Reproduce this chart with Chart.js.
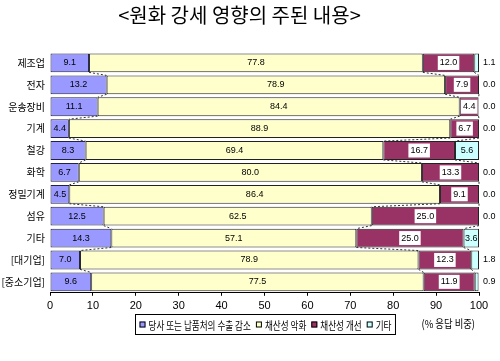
<!DOCTYPE html>
<html>
<head>
<meta charset="utf-8">
<script src="https://cdn.jsdelivr.net/npm/chart.js@4/dist/chart.umd.min.js"></script>
<style>
  html, body { margin: 0; padding: 0; background: #fff; }
  #wrap { width: 500px; height: 361px; }
</style>
</head>
<body>
<div id="wrap"><canvas id="c" width="500" height="361"></canvas></div>
<script>
const titleText = '<원화 강세 영향의 주된 내용>';
const categories = ['제조업', '전자', '운송장비', '기계', '철강', '화학', '정밀기계', '섬유', '기타', '[대기업]', '[중소기업]'];
const seriesNames = ['당사 또는 납품처의 수출 감소', '채산성 악화', '채산성 개선', '기타'];
const exportDecline = [9.1, 13.2, 11.1, 4.4, 8.3, 6.7, 4.5, 12.5, 14.3, 7.0, 9.6];
const profitWorse   = [77.8, 78.9, 84.4, 88.9, 69.4, 80.0, 86.4, 62.5, 57.1, 78.9, 77.5];
const profitBetter  = [12.0, 7.9, 4.4, 6.7, 16.7, 13.3, 9.1, 25.0, 25.0, 12.3, 11.9];
const others        = [1.1, 0.0, 0.0, 0.0, 5.6, 0.0, 0.0, 0.0, 3.6, 1.8, 0.9];
const xTicks = [0, 10, 20, 30, 40, 50, 60, 70, 80, 90, 100];
const unitLabel = '(% 응답 비중)';

const colors = ['#9999FF', '#FFFFCC', '#993366', '#CCFFFF'];
const borders = ['#222244', '#222222', '#222222', '#222222'];
const KR = '"Noto Sans CJK KR", "Noto Sans", sans-serif';

const seriesData = [exportDecline, profitWorse, profitBetter, others];

const overlay = {
  id: 'overlay',
  afterDatasetsDraw(chart) {
    const ctx = chart.ctx;
    const metas = seriesData.map((_, i) => chart.getDatasetMeta(i));
    const n = categories.length;
    // series lines
    ctx.save();
    ctx.setLineDash([2, 2]);
    ctx.strokeStyle = '#333';
    ctx.lineWidth = 1;
    for (let s = 0; s < 3; s++) {
      for (let i = 0; i < n - 1; i++) {
        const a = metas[s].data[i], b = metas[s].data[i + 1];
        ctx.beginPath();
        ctx.moveTo(a.x, a.y + a.height / 2);
        ctx.lineTo(b.x, b.y - b.height / 2);
        ctx.stroke();
      }
    }
    ctx.restore();
    // value labels
    ctx.save();
    ctx.font = '9px "Liberation Sans", Arial, sans-serif';
    ctx.textBaseline = 'middle';
    const area = chart.chartArea;
    seriesData.forEach((vals, s) => {
      metas[s].data.forEach((el, i) => {
        const v = vals[i];
        const txt = v.toFixed(1);
        const cx = (el.base + el.x) / 2;
        const cy = el.y;
        if (s === 3 && v < 3) {
          ctx.textAlign = 'left';
          ctx.fillStyle = '#000';
          ctx.fillText(txt, area.right + 4, cy);
          return;
        }
        ctx.textAlign = 'center';
        if (s === 2) {
          const w = ctx.measureText(txt).width + 4;
          ctx.fillStyle = '#fff';
          ctx.fillRect(cx - w / 2, cy - 7, w, 14);
        }
        ctx.fillStyle = '#000';
        ctx.fillText(txt, cx, cy);
      });
    });
    ctx.restore();
  },
  afterDraw(chart) {
    const ctx = chart.ctx;
    const area = chart.chartArea;
    ctx.save();
    const squeeze = 0.78;
    ctx.font = '11px ' + KR;
    ctx.textBaseline = 'middle';
    const box = 6, gapBox = 3, gapItem = 5, pad = 4;
    const widths = seriesNames.map(t => ctx.measureText(t).width * squeeze);
    let total = pad * 2;
    widths.forEach((w, i) => { total += box + gapBox + w + (i < widths.length - 1 ? gapItem : 0); });
    const cxMid = (area.left + area.right) / 2;
    const lx = Math.round(cxMid - total / 2) + 0.5;
    const ly = Math.round(area.bottom + 21) + 0.5;
    const lh = 20;
    ctx.fillStyle = '#fff';
    ctx.fillRect(lx, ly, total, lh);
    ctx.strokeStyle = '#000';
    ctx.lineWidth = 1;
    ctx.strokeRect(lx, ly, total, lh);
    let x = lx + pad;
    const my = ly + lh / 2;
    seriesNames.forEach((t, i) => {
      ctx.fillStyle = colors[i];
      ctx.fillRect(x, my - box / 2, box, box);
      ctx.strokeStyle = '#000';
      ctx.strokeRect(x + 0.5, my - box / 2 + 0.5, box - 1, box - 1);
      x += box + gapBox;
      ctx.fillStyle = '#000';
      ctx.textAlign = 'left';
      ctx.fillText(t, x, my + 1, widths[i]);
      x += widths[i] + gapItem;
    });
    // unit label
    ctx.font = '11px ' + KR;
    const uw = ctx.measureText(unitLabel).width * 0.85;
    ctx.textAlign = 'right';
    ctx.fillText(unitLabel, area.right - 4, area.bottom + 31, uw);
    ctx.restore();
  }
};

new Chart(document.getElementById('c'), {
  type: 'bar',
  data: {
    labels: categories,
    datasets: seriesData.map((vals, i) => ({
      label: seriesNames[i],
      data: vals,
      backgroundColor: colors[i],
      borderColor: borders[i],
      borderWidth: 1,
      borderSkipped: false,
      categoryPercentage: 1.0,
      barPercentage: 0.86
    }))
  },
  options: {
    indexAxis: 'y',
    responsive: false,
    devicePixelRatio: 1,
    animation: false,
    layout: { padding: { top: 0, right: 21, bottom: 44, left: 0 } },
    plugins: {
      legend: { display: false },
      tooltip: { enabled: false },
      title: {
        display: true,
        text: titleText,
        color: '#000',
        font: { size: 20, family: KR, weight: 'normal' },
        padding: { top: 3, bottom: 25 }
      }
    },
    scales: {
      x: {
        stacked: true,
        min: 0,
        max: 100,
        afterBuildTicks(scale) { scale.ticks = xTicks.map(v => ({ value: v })); },
        ticks: { color: '#000', font: { size: 11, family: '"Liberation Sans", Arial, sans-serif' }, padding: 4, maxRotation: 0 },
        grid: { display: true, drawOnChartArea: false, drawTicks: true, tickLength: 3, color: '#000' },
        border: { display: true, color: '#000' }
      },
      y: {
        stacked: true,
        afterFit(scale) { scale.width = 50; },
        ticks: { color: '#000', font: { size: 10, family: KR }, padding: 5 },
        grid: { display: false, drawTicks: false },
        border: { display: false }
      }
    }
  },
  plugins: [overlay]
});
</script>
</body>
</html>
